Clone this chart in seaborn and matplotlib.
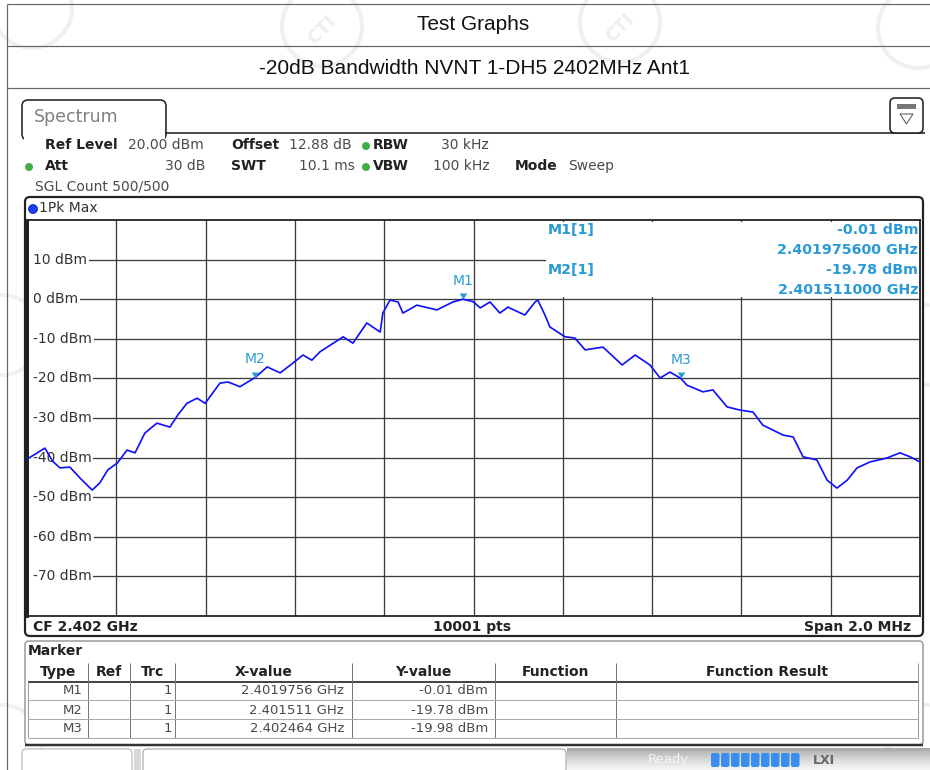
import matplotlib
matplotlib.use("Agg")
import matplotlib.pyplot as plt
from matplotlib.patches import Rectangle, FancyBboxPatch, Circle, Polygon
import seaborn as sns
import numpy as np

# ---------------- data ----------------
center_ghz = 2.402
span_mhz = 2.0
ref_level = 20
y_bottom = -80
trace_offset_mhz = [-1.000, -0.960, -0.942, -0.926, -0.904, -0.881, -0.854, -0.837, -0.819, -0.798,
                    -0.776, -0.758, -0.736, -0.709, -0.680, -0.662, -0.642, -0.619, -0.601, -0.568,
                    -0.550, -0.523, -0.489, -0.462, -0.433, -0.404, -0.382, -0.362, -0.344, -0.292,
                    -0.270, -0.239, -0.209, -0.203, -0.187, -0.169, -0.158, -0.127, -0.082, -0.046,
                    -0.024, -0.001, 0.015, 0.037, 0.059, 0.077, 0.115, 0.138, 0.144, 0.160,
                    0.171, 0.205, 0.227, 0.250, 0.290, 0.333, 0.362, 0.395, 0.418, 0.440,
                    0.464, 0.478, 0.514, 0.536, 0.568, 0.597, 0.626, 0.648, 0.693, 0.716,
                    0.738, 0.769, 0.792, 0.814, 0.837, 0.859, 0.888, 0.926, 0.955, 0.978, 1.000]
trace_dbm = [-40.4, -37.6, -41.0, -42.6, -42.4, -45.2, -48.2, -46.4, -43.1, -41.4,
             -38.1, -38.8, -33.8, -31.3, -32.3, -29.2, -26.3, -25.0, -26.3, -21.2,
             -20.9, -22.1, -19.78, -17.1, -18.6, -16.1, -14.1, -15.4, -13.3, -9.5,
             -11.1, -6.0, -8.3, -3.5, -0.2, -0.7, -3.5, -1.5, -2.7, -0.7,
             -0.01, -0.6, -2.2, -0.7, -3.5, -2.0, -4.0, -0.7, -0.2, -4.0,
             -7.0, -9.5, -9.8, -12.8, -12.1, -16.6, -14.1, -16.6, -19.9, -18.4,
             -19.98, -21.7, -23.4, -22.9, -27.2, -28.0, -28.5, -31.8, -34.3, -34.8,
             -39.8, -40.6, -45.7, -47.7, -45.7, -42.6, -41.1, -40.1, -38.8, -39.8, -41.1]
marker_names = ["M1", "M2", "M3"]
marker_freq_ghz = [2.4019756, 2.401511, 2.402464]
marker_dbm = [-0.01, -19.78, -19.98]
marker_x_text = ["2.4019756 GHz", "2.401511 GHz", "2.402464 GHz"]
marker_y_text = ["-0.01 dBm", "-19.78 dBm", "-19.98 dBm"]
y_ticks = [10, 0, -10, -20, -30, -40, -50, -60, -70]
x_grid = [-0.8, -0.6, -0.4, -0.2, 0.0, 0.2, 0.4, 0.6, 0.8]
table_cols = ["Type", "Ref", "Trc", "X-value", "Y-value", "Function", "Function Result"]

# ---------------- style ----------------
sns.set_style("white")
plt.rcParams["font.family"] = ["DejaVu Sans"]

W, H = 930, 770
fig = plt.figure(figsize=(W / 100, H / 100), dpi=100)
fig.patch.set_facecolor("white")

bg = fig.add_axes([0, 0, 1, 1], zorder=0)
bg.set_xlim(0, W)
bg.set_ylim(H, 0)
bg.axis("off")

PX = 0.72  # px -> pt
TXT = "#333333"
VAL = "#4a4a4a"
MCOL = "#2a9ad6"
GREEN = "#3fae49"
FS = 10

def hline(y, x0, x1, color="#555555", lw=1.0, z=1):
    bg.plot([x0, x1], [y, y], color=color, lw=lw * PX, zorder=z, solid_capstyle="butt")

def vline(x, y0, y1, color="#555555", lw=1.0, z=1):
    bg.plot([x, x], [y0, y1], color=color, lw=lw * PX, zorder=z, solid_capstyle="butt")

def txt(x, y, s, size=FS, color=TXT, weight="normal", ha="left", va="center", family=None, z=5):
    kw = {}
    if family:
        kw["family"] = family
    bg.text(x, y, s, fontsize=size, color=color, fontweight=weight, ha=ha, va=va, zorder=z, **kw)

# watermarks (very faint circles)
for (cx, cy) in [(32, 8), (322, 26), (620, 22), (918, 28), (2, 335), (928, 345), (2, 745), (928, 745)]:
    bg.add_patch(Circle((cx, cy), 40, fill=False, ec="#f0f0f0", lw=4 * PX, zorder=0.5))
for (cx, cy) in [(322, 30), (620, 28)]:
    bg.text(cx, cy, "CTI", fontsize=13, color="#eeeeee", rotation=45, ha="center", va="center",
            fontweight="bold", zorder=0.5)

# outer table lines
vline(7, 4, H, color="#666666", lw=1.2)
hline(4, 7, W, color="#666666", lw=1.2)
hline(46, 7, W, color="#666666", lw=1.2)
hline(88, 7, W, color="#666666", lw=1.2)
txt(473, 25, "Test Graphs", size=15, color="#111111", ha="center", family=["Liberation Sans"])
txt(474, 68, "-20dB Bandwidth NVNT 1-DH5 2402MHz Ant1", size=15, color="#111111", ha="center",
    family=["Liberation Sans"])

# Spectrum tab
bg.add_patch(FancyBboxPatch((22, 100), 144, 40, boxstyle="round,pad=0,rounding_size=6",
                            fc="white", ec="#222222", lw=1.6 * PX, zorder=1))
bg.add_patch(Rectangle((23.5, 134), 141, 10, fc="white", ec="none", zorder=1.2))
hline(133, 165, 925, color="#222222", lw=1.6, z=1.3)
txt(34, 117, "Spectrum", size=12.5, color="#808080")
# icon
bg.add_patch(FancyBboxPatch((890, 98), 33, 35, boxstyle="round,pad=0,rounding_size=5",
                            fc="white", ec="#222222", lw=1.6 * PX, zorder=2))
bg.add_patch(Rectangle((897, 104), 19, 5, fc="#777777", ec="none", zorder=2.5))
bg.add_patch(Polygon([(900, 114), (913, 114), (906.5, 124)], closed=True, fill=False,
                     ec="#555555", lw=1 * PX, zorder=2.5))

# settings
txt(45, 145, "Ref Level", weight="bold", color="#222222")
txt(128, 145, "20.00 dBm", color=VAL)
txt(231, 145, "Offset", weight="bold", color="#222222")
txt(289, 145, "12.88 dB", color=VAL)
bg.add_patch(Circle((366, 146), 4, fc=GREEN, ec="none", zorder=3))
txt(373, 145, "RBW", weight="bold", color="#222222")
txt(441, 145, "30 kHz", color=VAL)
bg.add_patch(Circle((29, 167), 4, fc=GREEN, ec="none", zorder=3))
txt(45, 166, "Att", weight="bold", color="#222222")
txt(205, 166, "30 dB", color=VAL, ha="right")
txt(231, 166, "SWT", weight="bold", color="#222222")
txt(355, 166, "10.1 ms", color=VAL, ha="right")
bg.add_patch(Circle((366, 167), 4, fc=GREEN, ec="none", zorder=3))
txt(373, 166, "VBW", weight="bold", color="#222222")
txt(433, 166, "100 kHz", color=VAL)
txt(515, 166, "Mode", weight="bold", color="#222222")
txt(568, 166, "Sweep", color=VAL)
txt(35, 186, "SGL Count 500/500", color=VAL)

# diagram frame
bg.add_patch(FancyBboxPatch((25, 197), 898, 439, boxstyle="round,pad=0,rounding_size=5",
                            fc="white", ec="#222222", lw=2.2 * PX, zorder=1))
bg.add_patch(Circle((33, 209), 4.5, fc="#1a3cff", ec="#0a1a80", lw=0.5, zorder=3))
txt(39, 208, "1Pk Max", color=TXT)
txt(33, 627, "CF 2.402 GHz", weight="bold", color="#222222")
txt(472, 627, "10001 pts", weight="bold", color="#222222", ha="center")
txt(911, 627, "Span 2.0 MHz", weight="bold", color="#222222", ha="right")

# marker table
bg.add_patch(FancyBboxPatch((25, 641), 898, 104, boxstyle="round,pad=0,rounding_size=4",
                            fc="white", ec="#999999", lw=1.5 * PX, zorder=1))
hline(745, 25, 923, color="#333333", lw=2.5, z=1.5)
txt(28, 651, "Marker", weight="bold", color="#222222")
col_edges = [28, 88, 130, 175, 352, 495, 616, 918]
hdr_y = 672
for i, name in enumerate(table_cols):
    txt((col_edges[i] + col_edges[i + 1]) / 2, hdr_y, name, weight="bold", color="#222222", ha="center")
hline(682, 28, 918, color="#333333", lw=1.8, z=2)
for xe in col_edges[1:-1]:
    vline(xe, 663, 738, color="#777777", lw=1, z=2)
vline(918, 663, 738, color="#999999", lw=1, z=2)
vline(28, 682, 738, color="#999999", lw=1, z=2)
for yl in [700, 719, 738]:
    hline(yl, 28, 918, color="#aaaaaa", lw=1, z=2)
row_y = [690, 710, 729]
for i in range(3):
    txt(83, row_y[i], marker_names[i], color=VAL, ha="right", size=9.5)
    txt(172, row_y[i], "1", color=VAL, ha="right", size=9.5)
    txt(344, row_y[i], marker_x_text[i], color=VAL, ha="right", size=9.5)
    txt(488, row_y[i], marker_y_text[i], color=VAL, ha="right", size=9.5)

# bottom status bar
bg.add_patch(FancyBboxPatch((22, 749), 110, 30, boxstyle="round,pad=0,rounding_size=4",
                            fc="white", ec="#aaaaaa", lw=1 * PX, zorder=1))
bg.add_patch(Rectangle((134, 749), 7, 25, fc="#d8d8d8", ec="none", zorder=1))
bg.add_patch(FancyBboxPatch((143, 749), 423, 30, boxstyle="round,pad=0,rounding_size=4",
                            fc="white", ec="#999999", lw=1 * PX, zorder=1))
grad = np.linspace(0.45, 0.08, 50).reshape(-1, 1)
bg.imshow(grad, extent=(567, W, 770, 748), cmap="Greys", vmin=0, vmax=1, aspect="auto", zorder=0.8)
txt(648, 760, "Ready", color="#f4f4f4", size=9.5)
for k in range(9):
    bg.add_patch(FancyBboxPatch((711 + k * 10, 753), 8.5, 14, boxstyle="round,pad=0,rounding_size=2",
                                fc="#3a8ef0", ec="none", zorder=2))
txt(813, 760, "LXI", color="#666666", weight="bold", size=9)

# ---------------- spectrum plot ----------------
x0p, x1p, y0p, y1p = 27, 920, 220, 616
ax = fig.add_axes([x0p / W, 1 - y1p / H, (x1p - x0p) / W, (y1p - y0p) / H], zorder=2)
ax.set_facecolor("white")
ax.set_xlim(-span_mhz / 2, span_mhz / 2)
ax.set_ylim(y_bottom, ref_level)
ax.set_xticks(x_grid)
ax.set_yticks(y_ticks)
ax.tick_params(left=False, bottom=False, labelleft=False, labelbottom=False)
ax.grid(True, color="#3c3c3c", lw=1.3 * PX)
ax.set_axisbelow(True)
for side, sp in ax.spines.items():
    sp.set_color("#222222")
    sp.set_linewidth(1.8 * PX)
ax.spines["left"].set_linewidth(3 * PX)

# marker info box (covers the grid in the top-right corner)
ax.add_patch(Rectangle((0.581, 0.806), 0.419, 0.19, transform=ax.transAxes, fc="white", ec="none", zorder=1))
# blank strip left of the level labels
ax.add_patch(Rectangle((0, 0.08), 6 / (x1p - x0p), 0.84, transform=ax.transAxes, fc="white", ec="none", zorder=1))

for t in y_ticks:
    ax.text(6 / (x1p - x0p), t, f"{t} dBm", transform=ax.get_yaxis_transform(), fontsize=FS,
            color=TXT, ha="left", va="center", zorder=2,
            bbox=dict(boxstyle="square,pad=0.12", fc="white", ec="none"))

sns.lineplot(x=trace_offset_mhz, y=trace_dbm, ax=ax, color="#1010ff", lw=1.7 * PX,
             estimator=None, sort=False, zorder=3)

tip = [(0, 0), (-1, 1.6), (1, 1.6)]
for name, f, lvl in zip(marker_names, marker_freq_ghz, marker_dbm):
    off = (f - center_ghz) * 1000
    ax.scatter([off], [lvl], marker=tip, s=75, color=MCOL, zorder=4, linewidths=0)
    ax.annotate(name, (off, lvl), xytext=(0, 13), textcoords="offset points", ha="center",
                va="center", color=MCOL, fontsize=FS, zorder=4)

# marker readout
rx_l = (548 - x0p) / (x1p - x0p)
rx_r = (918 - x0p) / (x1p - x0p)
def ry(ypix):
    return (y1p - ypix) / (y1p - y0p)
readout = [
    (rx_l, 230, "M1[1]", "left"),
    (rx_r, 230, f"{marker_dbm[0]:.2f} dBm", "right"),
    (rx_r, 250, f"{marker_freq_ghz[0]:.9f} GHz", "right"),
    (rx_l, 270, "M2[1]", "left"),
    (rx_r, 270, f"{marker_dbm[1]:.2f} dBm", "right"),
    (rx_r, 290, f"{marker_freq_ghz[1]:.9f} GHz", "right"),
]
for xx, yp, s, ha in readout:
    ax.text(xx, ry(yp), s, transform=ax.transAxes, color=MCOL, fontsize=10.3, fontweight="bold",
            ha=ha, va="center", zorder=5)

ax.set_xlabel("")
ax.set_ylabel("")
fig.savefig("out.png", dpi=100, facecolor="white")
